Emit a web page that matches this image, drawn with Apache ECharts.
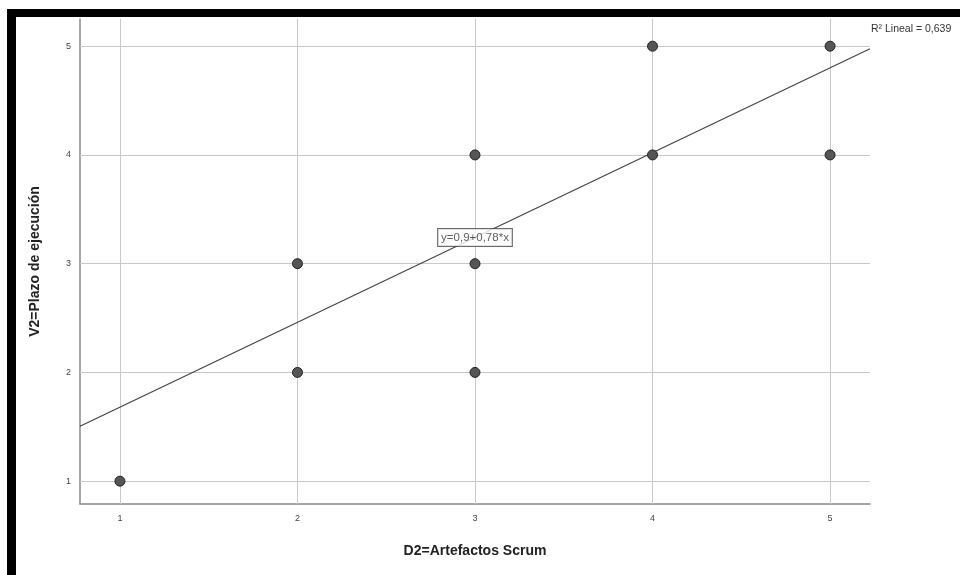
<!DOCTYPE html>
<html>
<head>
<meta charset="utf-8">
<script src="https://cdn.jsdelivr.net/npm/echarts@6/dist/echarts.min.js"></script>
<style>
  html, body { margin: 0; padding: 0; background: #fff; }
  #chart { width: 960px; height: 575px; }
</style>
</head>
<body>
<div id="chart"></div>
<script>
// datos
var puntosX = [1, 2, 2, 3, 3, 3, 4, 4, 5, 5];
var puntosY = [1, 3, 2, 4, 3, 2, 5, 4, 5, 4];
var ticksX = [1, 2, 3, 4, 5];
var ticksY = [1, 2, 3, 4, 5];
// recta de ajuste (extremos en el borde del área)
var rectaX = [0.775, 5.225];
var rectaY = [1.505, 4.976];
var etiquetaPos = [3, 3.24];
var ecuacion = 'y=0,9+0,78*x';
var r2Texto = 'R² Lineal = 0,639';

var myChart = echarts.init(document.getElementById('chart'));

var puntos = [];
for (var i = 0; i < puntosX.length; i++) {
    puntos.push([puntosX[i], puntosY[i]]);
}
var recta = [];
for (var j = 0; j < rectaX.length; j++) {
    recta.push([rectaX[j], rectaY[j]]);
}

var option = {
    backgroundColor: '#fff',
    animation: false,
    textStyle: { fontFamily: 'Liberation Sans' },
    grid: { left: 80, right: 90, top: 19, bottom: 71 },
    graphic: [
        { type: 'rect', left: 7, top: 9, shape: { width: 953, height: 8 }, style: { fill: '#000' }, z: 100 },
        { type: 'rect', left: 7, top: 9, shape: { width: 9, height: 566 }, style: { fill: '#000' }, z: 100 },
        {
            type: 'text', left: 871, top: 24, z: 50,
            style: { text: r2Texto, fontSize: 10.5, fill: '#333', fontFamily: 'Liberation Sans' }
        }
    ],
    xAxis: {
        type: 'value',
        min: 0.775,
        max: 5.225,
        name: 'D2=Artefactos Scrum',
        nameLocation: 'middle',
        nameGap: 40,
        nameTextStyle: { fontSize: 14, fontWeight: 'bold', color: '#222' },
        axisLine: { show: true, lineStyle: { color: '#888', width: 1.5 } },
        axisTick: { show: false },
        axisLabel: {
            fontSize: 9, color: '#444', margin: 10,
            customValues: ticksX
        },
        splitLine: { show: false }
    },
    yAxis: {
        type: 'value',
        min: 0.79,
        max: 5.25,
        name: 'V2=Plazo de ejecución',
        nameLocation: 'middle',
        nameGap: 38,
        nameTextStyle: { fontSize: 14, fontWeight: 'bold', color: '#222' },
        axisLine: { show: true, lineStyle: { color: '#888', width: 1.5 } },
        axisTick: { show: false },
        axisLabel: {
            fontSize: 9, color: '#444', margin: 9,
            customValues: ticksY
        },
        splitLine: { show: false }
    },
    series: [
        {
            // rejilla
            type: 'line',
            silent: true,
            data: [],
            z: 1,
            markLine: {
                silent: true,
                symbol: 'none',
                z: 1,
                label: { show: false },
                lineStyle: { color: '#c8c8c8', width: 1, type: 'solid' },
                data: ticksX.map(function (v) { return { xAxis: v }; })
                    .concat(ticksY.map(function (v) { return { yAxis: v }; }))
            }
        },
        {
            name: 'recta',
            type: 'line',
            data: recta,
            symbol: 'none',
            lineStyle: { color: '#444', width: 1.2 },
            z: 3
        },
        {
            name: 'puntos',
            type: 'scatter',
            data: puntos,
            symbolSize: 10,
            itemStyle: { color: '#555', borderColor: '#222', borderWidth: 1, opacity: 1 },
            z: 10
        },
        {
            name: 'ecuacion',
            type: 'scatter',
            data: [etiquetaPos],
            symbolSize: 0,
            z: 12,
            label: {
                show: true,
                position: 'inside',
                formatter: ecuacion,
                fontSize: 11.5,
                color: '#333',
                backgroundColor: '#fff',
                borderColor: '#444',
                borderWidth: 1,
                padding: [3, 3, 2, 3]
            }
        }
    ]
};

myChart.setOption(option);
</script>
</body>
</html>
